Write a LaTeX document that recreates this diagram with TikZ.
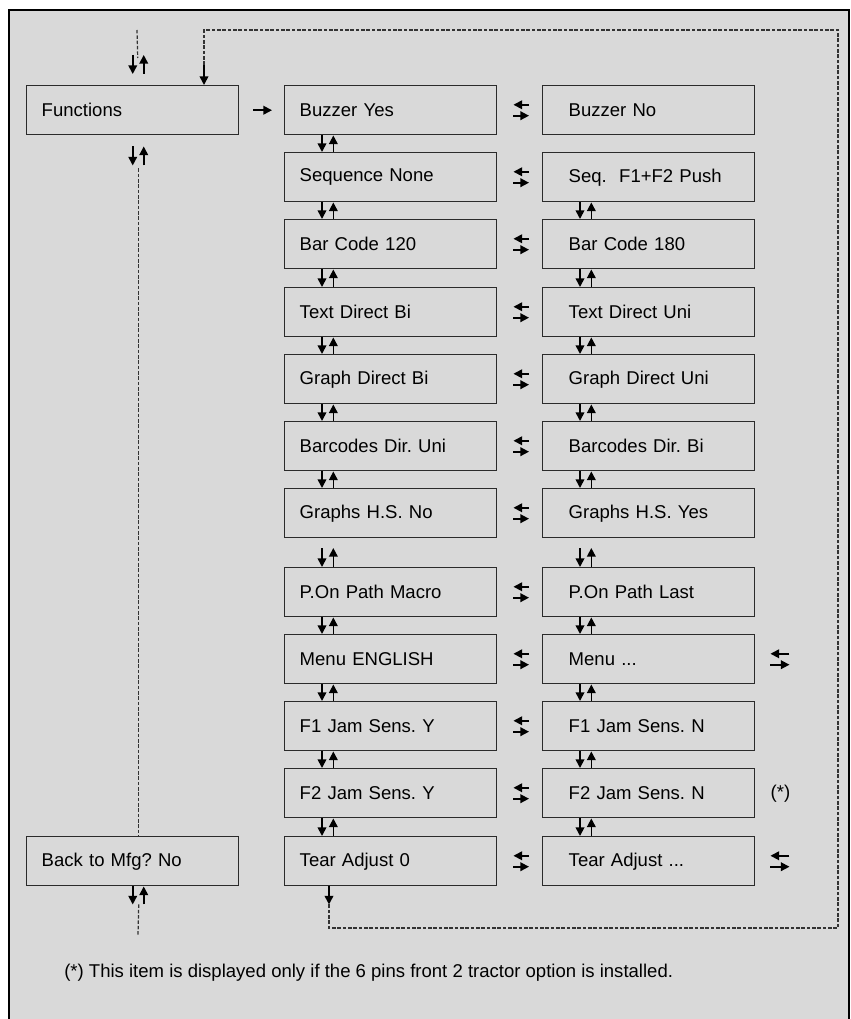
\documentclass[tikz,border=0pt]{standalone}
\usepackage{fontspec}
\setmainfont{Liberation Sans}
\usetikzlibrary{arrows.meta}
\definecolor{nen}{HTML}{D9D9D9}
\definecolor{vien}{HTML}{2B2B2B}
\definecolor{netdut}{HTML}{333333}
\tikzset{
  hop/.style={draw=vien, line width=1.1pt, anchor=north west, minimum height=36.75pt,
    inner xsep=11.25pt, text width=136.5pt, align=left},
  hopphai/.style={hop, inner xsep=19.5pt, text width=120pt},
  muiten/.style={draw=black, line width=1.25pt, -{Triangle[length=6.5pt,width=6.5pt]}},
  duongdut/.style={draw=netdut, line width=0.9pt, dash pattern=on 2.6pt off 1.4pt}
}
\frenchspacing
\begin{document}
\begin{tikzpicture}[x=0.75pt, y=-0.75pt, font=\fontsize{13.9}{16}\selectfont]
        % Khung nền
        \useasboundingbox (0,0) rectangle (850,1019);
        \draw[fill=nen, line width=1.1pt] (9,10) rectangle (849,1040);

        % Cột trái
        \node[hop] (fn) at (26,85) {Functions};
        \node[hop] (back) at (26,836) {Back to Mfg? No};

        % Cột giữa
        \node[hop] (byes) at (284,85) {Buzzer Yes};
        \node[hop] (seqn) at (284,152) {Sequence None};
        \node[hop] (bc120) at (284,219) {Bar Code 120};
        \node[hop] (tdbi) at (284,287) {Text Direct Bi};
        \node[hop] (gdbi) at (284,354) {Graph Direct Bi};
        \node[hop] (bduni) at (284,421) {Barcodes Dir. Uni};
        \node[hop] (gsno) at (284,488) {Graphs H.S. No};
        \node[hop] (pmac) at (284,567) {P.On Path Macro};
        \node[hop] (meng) at (284,634) {Menu ENGLISH};
        \node[hop] (f1y) at (284,701) {F1 Jam Sens. Y};
        \node[hop] (f2y) at (284,768) {F2 Jam Sens. Y};
        \node[hop] (tear0) at (284,836) {Tear Adjust 0};

        % Cột phải
        \node[hopphai] (bno) at (542,85) {Buzzer No};
        \node[hopphai] (seqp) at (542,152) {Seq.\ \ F1+F2 Push};
        \node[hopphai] (bc180) at (542,219) {Bar Code 180};
        \node[hopphai] (tduni) at (542,287) {Text Direct Uni};
        \node[hopphai] (gduni) at (542,354) {Graph Direct Uni};
        \node[hopphai] (bdbi) at (542,421) {Barcodes Dir. Bi};
        \node[hopphai] (gsyes) at (542,488) {Graphs H.S. Yes};
        \node[hopphai] (plast) at (542,567) {P.On Path Last};
        \node[hopphai] (mdots) at (542,634) {Menu ...};
        \node[hopphai] (f1n) at (542,701) {F1 Jam Sens. N};
        \node[hopphai] (f2n) at (542,768) {F2 Jam Sens. N};
        \node[hopphai] (teard) at (542,836) {Tear Adjust ...};

        \node[anchor=west, inner sep=0pt] (sao) at ([xshift=11.25pt]f2n.east) {(*)};
        \node[anchor=west, inner sep=0pt] (ghichu) at (64,973) {(*) This item is displayed only if the 6 pins front 2 tractor option is installed.};

        % Mũi tên quanh Functions / Back
        \coordinate (vao) at (137,30);
        \coordinate (ra) at (138,935);
        \draw[duongdut] (vao) -- ([xshift=3.75pt,yshift=20.25pt]fn.north);
        \draw[muiten] ([yshift=22.5pt]fn.north) -- ([yshift=8.25pt]fn.north);
        \draw[muiten] ([xshift=8.25pt,yshift=8.25pt]fn.north) -- ([xshift=8.25pt,yshift=22.5pt]fn.north);
        \draw[muiten] ([yshift=-8.25pt]fn.south) -- ([yshift=-22.5pt]fn.south);
        \draw[muiten] ([xshift=8.25pt,yshift=-22.5pt]fn.south) -- ([xshift=8.25pt,yshift=-8.25pt]fn.south);
        \draw[duongdut] ([xshift=4.5pt,yshift=-24.75pt]fn.south) -- ([xshift=4.5pt]back.north);
        \draw[muiten] (back.south) -- ([yshift=-13.5pt]back.south);
        \draw[muiten] ([xshift=8.25pt,yshift=-13.5pt]back.south) -- ([xshift=8.25pt]back.south);
        \draw[duongdut] ([xshift=4.5pt,yshift=-13.5pt]back.south) -- (ra);
        \draw[muiten] ([xshift=10.5pt]fn.east) -- ([xshift=-9pt]byes.west);

        % Vòng nét đứt quay về Functions
        \coordinate (g1) at (838,928);
        \coordinate (g2) at (838,30);
        \coordinate (g3) at (204,65);
        \draw[muiten] ([xshift=33.75pt]tear0.south west) -- ([xshift=33.75pt,yshift=-13.5pt]tear0.south west);
        \draw[duongdut] ([xshift=33.75pt,yshift=-13.5pt]tear0.south west) |- (g1) -- (g2) -| (g3);
        \draw[muiten] (g3) -- (g3 |- fn.north);

        % Mũi tên lên xuống cột giữa
        \draw[muiten] ([xshift=28.5pt]byes.south west) -- ([xshift=28.5pt]seqn.north west);
        \draw[muiten] ([xshift=37pt]seqn.north west) -- ([xshift=37pt]byes.south west);
        \draw[muiten] ([xshift=28.5pt]seqn.south west) -- ([xshift=28.5pt]bc120.north west);
        \draw[muiten] ([xshift=37pt]bc120.north west) -- ([xshift=37pt]seqn.south west);
        \draw[muiten] ([xshift=28.5pt]bc120.south west) -- ([xshift=28.5pt]tdbi.north west);
        \draw[muiten] ([xshift=37pt]tdbi.north west) -- ([xshift=37pt]bc120.south west);
        \draw[muiten] ([xshift=28.5pt]tdbi.south west) -- ([xshift=28.5pt]gdbi.north west);
        \draw[muiten] ([xshift=37pt]gdbi.north west) -- ([xshift=37pt]tdbi.south west);
        \draw[muiten] ([xshift=28.5pt]gdbi.south west) -- ([xshift=28.5pt]bduni.north west);
        \draw[muiten] ([xshift=37pt]bduni.north west) -- ([xshift=37pt]gdbi.south west);
        \draw[muiten] ([xshift=28.5pt]bduni.south west) -- ([xshift=28.5pt]gsno.north west);
        \draw[muiten] ([xshift=37pt]gsno.north west) -- ([xshift=37pt]bduni.south west);
        \draw[muiten] ([xshift=28.5pt,yshift=14.25pt]pmac.north west) -- ([xshift=28.5pt]pmac.north west);
        \draw[muiten] ([xshift=37pt]pmac.north west) -- ([xshift=37pt,yshift=14.25pt]pmac.north west);
        \draw[muiten] ([xshift=28.5pt]pmac.south west) -- ([xshift=28.5pt]meng.north west);
        \draw[muiten] ([xshift=37pt]meng.north west) -- ([xshift=37pt]pmac.south west);
        \draw[muiten] ([xshift=28.5pt]meng.south west) -- ([xshift=28.5pt]f1y.north west);
        \draw[muiten] ([xshift=37pt]f1y.north west) -- ([xshift=37pt]meng.south west);
        \draw[muiten] ([xshift=28.5pt]f1y.south west) -- ([xshift=28.5pt]f2y.north west);
        \draw[muiten] ([xshift=37pt]f2y.north west) -- ([xshift=37pt]f1y.south west);
        \draw[muiten] ([xshift=28.5pt]f2y.south west) -- ([xshift=28.5pt]tear0.north west);
        \draw[muiten] ([xshift=37pt]tear0.north west) -- ([xshift=37pt]f2y.south west);

        % Mũi tên lên xuống cột phải
        \draw[muiten] ([xshift=28.5pt]seqp.south west) -- ([xshift=28.5pt]bc180.north west);
        \draw[muiten] ([xshift=37pt]bc180.north west) -- ([xshift=37pt]seqp.south west);
        \draw[muiten] ([xshift=28.5pt]bc180.south west) -- ([xshift=28.5pt]tduni.north west);
        \draw[muiten] ([xshift=37pt]tduni.north west) -- ([xshift=37pt]bc180.south west);
        \draw[muiten] ([xshift=28.5pt]tduni.south west) -- ([xshift=28.5pt]gduni.north west);
        \draw[muiten] ([xshift=37pt]gduni.north west) -- ([xshift=37pt]tduni.south west);
        \draw[muiten] ([xshift=28.5pt]gduni.south west) -- ([xshift=28.5pt]bdbi.north west);
        \draw[muiten] ([xshift=37pt]bdbi.north west) -- ([xshift=37pt]gduni.south west);
        \draw[muiten] ([xshift=28.5pt]bdbi.south west) -- ([xshift=28.5pt]gsyes.north west);
        \draw[muiten] ([xshift=37pt]gsyes.north west) -- ([xshift=37pt]bdbi.south west);
        \draw[muiten] ([xshift=28.5pt,yshift=14.25pt]plast.north west) -- ([xshift=28.5pt]plast.north west);
        \draw[muiten] ([xshift=37pt]plast.north west) -- ([xshift=37pt,yshift=14.25pt]plast.north west);
        \draw[muiten] ([xshift=28.5pt]plast.south west) -- ([xshift=28.5pt]mdots.north west);
        \draw[muiten] ([xshift=37pt]mdots.north west) -- ([xshift=37pt]plast.south west);
        \draw[muiten] ([xshift=28.5pt]mdots.south west) -- ([xshift=28.5pt]f1n.north west);
        \draw[muiten] ([xshift=37pt]f1n.north west) -- ([xshift=37pt]mdots.south west);
        \draw[muiten] ([xshift=28.5pt]f1n.south west) -- ([xshift=28.5pt]f2n.north west);
        \draw[muiten] ([xshift=37pt]f2n.north west) -- ([xshift=37pt]f1n.south west);
        \draw[muiten] ([xshift=28.5pt]f2n.south west) -- ([xshift=28.5pt]teard.north west);
        \draw[muiten] ([xshift=37pt]teard.north west) -- ([xshift=37pt]f2n.south west);

        % Mũi tên qua lại giữa hai cột
        \draw[muiten] ([xshift=-9.75pt,yshift=4.1pt]bno.west) -- ([xshift=12pt,yshift=4.1pt]byes.east);
        \draw[muiten] ([xshift=12pt,yshift=-4.1pt]byes.east) -- ([xshift=-9.75pt,yshift=-4.1pt]bno.west);
        \draw[muiten] ([xshift=-9.75pt,yshift=4.1pt]seqp.west) -- ([xshift=12pt,yshift=4.1pt]seqn.east);
        \draw[muiten] ([xshift=12pt,yshift=-4.1pt]seqn.east) -- ([xshift=-9.75pt,yshift=-4.1pt]seqp.west);
        \draw[muiten] ([xshift=-9.75pt,yshift=4.1pt]bc180.west) -- ([xshift=12pt,yshift=4.1pt]bc120.east);
        \draw[muiten] ([xshift=12pt,yshift=-4.1pt]bc120.east) -- ([xshift=-9.75pt,yshift=-4.1pt]bc180.west);
        \draw[muiten] ([xshift=-9.75pt,yshift=4.1pt]tduni.west) -- ([xshift=12pt,yshift=4.1pt]tdbi.east);
        \draw[muiten] ([xshift=12pt,yshift=-4.1pt]tdbi.east) -- ([xshift=-9.75pt,yshift=-4.1pt]tduni.west);
        \draw[muiten] ([xshift=-9.75pt,yshift=4.1pt]gduni.west) -- ([xshift=12pt,yshift=4.1pt]gdbi.east);
        \draw[muiten] ([xshift=12pt,yshift=-4.1pt]gdbi.east) -- ([xshift=-9.75pt,yshift=-4.1pt]gduni.west);
        \draw[muiten] ([xshift=-9.75pt,yshift=4.1pt]bdbi.west) -- ([xshift=12pt,yshift=4.1pt]bduni.east);
        \draw[muiten] ([xshift=12pt,yshift=-4.1pt]bduni.east) -- ([xshift=-9.75pt,yshift=-4.1pt]bdbi.west);
        \draw[muiten] ([xshift=-9.75pt,yshift=4.1pt]gsyes.west) -- ([xshift=12pt,yshift=4.1pt]gsno.east);
        \draw[muiten] ([xshift=12pt,yshift=-4.1pt]gsno.east) -- ([xshift=-9.75pt,yshift=-4.1pt]gsyes.west);
        \draw[muiten] ([xshift=-9.75pt,yshift=4.1pt]plast.west) -- ([xshift=12pt,yshift=4.1pt]pmac.east);
        \draw[muiten] ([xshift=12pt,yshift=-4.1pt]pmac.east) -- ([xshift=-9.75pt,yshift=-4.1pt]plast.west);
        \draw[muiten] ([xshift=-9.75pt,yshift=4.1pt]mdots.west) -- ([xshift=12pt,yshift=4.1pt]meng.east);
        \draw[muiten] ([xshift=12pt,yshift=-4.1pt]meng.east) -- ([xshift=-9.75pt,yshift=-4.1pt]mdots.west);
        \draw[muiten] ([xshift=-9.75pt,yshift=4.1pt]f1n.west) -- ([xshift=12pt,yshift=4.1pt]f1y.east);
        \draw[muiten] ([xshift=12pt,yshift=-4.1pt]f1y.east) -- ([xshift=-9.75pt,yshift=-4.1pt]f1n.west);
        \draw[muiten] ([xshift=-9.75pt,yshift=4.1pt]f2n.west) -- ([xshift=12pt,yshift=4.1pt]f2y.east);
        \draw[muiten] ([xshift=12pt,yshift=-4.1pt]f2y.east) -- ([xshift=-9.75pt,yshift=-4.1pt]f2n.west);
        \draw[muiten] ([xshift=-9.75pt,yshift=4.1pt]teard.west) -- ([xshift=12pt,yshift=4.1pt]tear0.east);
        \draw[muiten] ([xshift=12pt,yshift=-4.1pt]tear0.east) -- ([xshift=-9.75pt,yshift=-4.1pt]teard.west);

        % Mũi tên bên phải Menu ... và Tear Adjust ...
        \draw[muiten] ([xshift=25.5pt,yshift=4.1pt]mdots.east) -- ([xshift=11.25pt,yshift=4.1pt]mdots.east);
        \draw[muiten] ([xshift=11.25pt,yshift=-4.1pt]mdots.east) -- ([xshift=25.5pt,yshift=-4.1pt]mdots.east);
        \draw[muiten] ([xshift=25.5pt,yshift=4.1pt]teard.east) -- ([xshift=11.25pt,yshift=4.1pt]teard.east);
        \draw[muiten] ([xshift=11.25pt,yshift=-4.1pt]teard.east) -- ([xshift=25.5pt,yshift=-4.1pt]teard.east);
\end{tikzpicture}
\end{document}
